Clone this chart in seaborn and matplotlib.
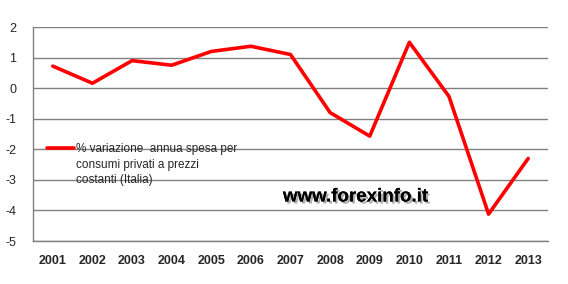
import matplotlib
matplotlib.use("Agg")
import matplotlib.pyplot as plt
import matplotlib.patheffects as pe
import seaborn as sns
import pandas as pd
import numpy as np

years = ["2001", "2002", "2003", "2004", "2005", "2006", "2007",
         "2008", "2009", "2010", "2011", "2012", "2013"]
values = [0.72, 0.16, 0.90, 0.75, 1.20, 1.37, 1.10,
          -0.80, -1.57, 1.50, -0.27, -4.12, -2.30]
yticks = [2, 1, 0, -1, -2, -3, -4, -5]
label_lines = ["% variazione  annua spesa per", "consumi privati a prezzi",
               "costanti (Italia)"]

sns.set_style("white")
plt.rcParams['font.family'] = ['Liberation Sans', 'DejaVu Sans']

df = pd.DataFrame({"pos": np.arange(len(years)), "val": values})

fig = plt.figure(figsize=(5.68, 2.84), dpi=100)
ax = fig.add_axes([33/568, 1-241/284, (548-33)/568, (241-27)/284])
sns.lineplot(data=df, x="pos", y="val", ax=ax, color="#ff0000", linewidth=2.6,
             label=label_lines[0])

ax.set_xlim(-0.5, len(years)-0.5)
ax.set_ylim(-5, 2)
ax.set_yticks(yticks)
ax.set_yticklabels([str(t) for t in yticks], fontsize=9)
ax.yaxis.grid(True, color="#808080", linewidth=1)
ax.set_axisbelow(True)
ax.set_xticks(np.arange(len(years)))
ax.set_xticklabels(years, fontsize=9, fontweight="bold")
ax.set_xticks(np.arange(len(years)+1)-0.5, minor=True)
ax.tick_params(axis="x", which="major", length=0, pad=10)
ax.tick_params(axis="x", which="minor", length=5, color="#808080", width=1)
ax.tick_params(axis="y", length=5, color="#808080", width=1, pad=7)
ax.set_xlabel("")
ax.set_ylabel("")
for s in ["top", "right"]:
    ax.spines[s].set_visible(False)
for s in ["left", "bottom"]:
    ax.spines[s].set_color("#808080")
    ax.spines[s].set_linewidth(1)

leg = ax.legend(loc="center left", bbox_to_anchor=(-0.15, -2.0),
                bbox_transform=ax.transData, frameon=False,
                fontsize=8.5, handlelength=2.3, handletextpad=0.15,
                borderaxespad=0.0, borderpad=0.0)
tx = (76 - 33) / 39.6 - 0.5
for i, line in enumerate(label_lines[1:], start=1):
    ax.text(tx, -2.0 - 0.51 * i, line, fontsize=8.5, ha="left", va="center")

ax.text(5.81, -3.56, "www.forexinfo.it", fontsize=13.5,
        fontweight="bold", color="black", ha="left", va="center",
        path_effects=[pe.withSimplePatchShadow(offset=(1.5, -1.5), shadow_rgbFace="#999999", alpha=0.8),
                      pe.Normal()])

fig.savefig("out.png", dpi=100)
